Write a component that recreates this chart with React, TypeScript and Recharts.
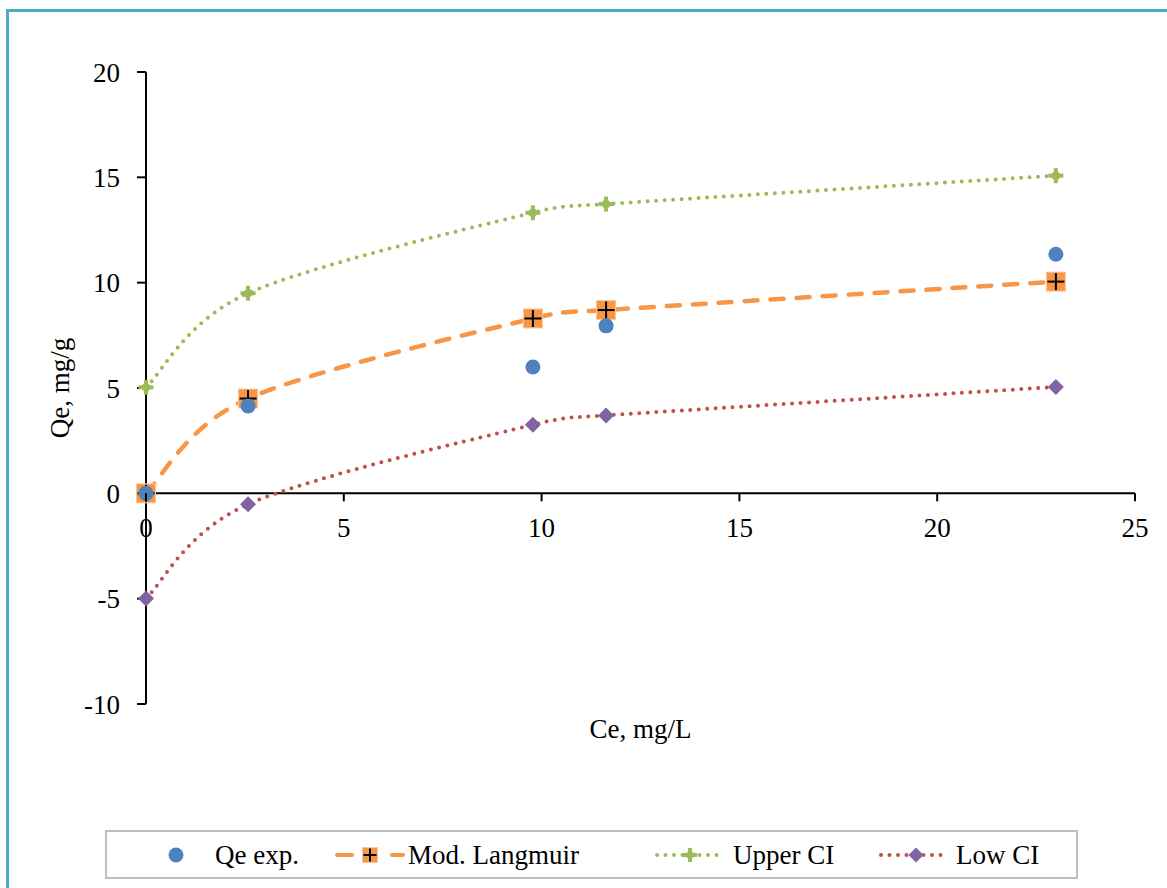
import React from "react";
import { LineChart, Line, XAxis, YAxis, ReferenceLine, Legend } from "recharts";

// Ce, mg/L
const CE = [0, 2.58, 9.78, 11.63, 23.0];
// Qe, mg/g
const QE_EXP = [0, 4.15, 6.0, 7.95, 11.35];
const MOD_LANGMUIR = [0, 4.5, 8.3, 8.7, 10.05];
const UPPER_CI = [5.03, 9.5, 13.32, 13.73, 15.08];
const LOW_CI = [-4.99, -0.52, 3.25, 3.7, 5.05];

const X_TICKS = [0, 5, 10, 15, 20, 25];
const Y_TICKS = [-10, -5, 0, 5, 10, 15, 20];
const Y_MIN = -10;
const Y_MAX = 20;

const W = 1167;
const H = 888;
const TOP = 72;
const PLOT_BOTTOM = 704;
const PLOT_H = PLOT_BOTTOM - TOP;
const Y_AXIS_W = 146;
const X_AXIS_H = 60;
// the horizontal axis crosses at Qe = 0
const ZERO_Y = TOP + (PLOT_H * Y_MAX) / (Y_MAX - Y_MIN);

const FONT = "'Liberation Serif', 'Times New Roman', serif";
const FS = 27;

const BLUE = "#4F81BD";
const ORANGE = "#F79646";
const GREEN = "#9BBB59";
const RED = "#C0504D";
const PURPLE = "#8064A2";

const data = CE.map((ce, i) => ({
  ce,
  qe: QE_EXP[i],
  lang: MOD_LANGMUIR[i],
  upper: UPPER_CI[i],
  low: LOW_CI[i],
}));

// Bezier smoothing: tangent along the neighbours' chord, length 1/6 of it,
// capped at half of the shorter adjacent segment so short gaps don't overshoot
const curveSmooth = (context: any) => {
  let pts: number[][] = [];
  const dist = (a: number[], b: number[]) => Math.hypot(b[0] - a[0], b[1] - a[1]);
  return {
    areaStart() {},
    areaEnd() {},
    lineStart() {
      pts = [];
    },
    point(x: number, y: number) {
      pts.push([+x, +y]);
    },
    lineEnd() {
      const n = pts.length;
      if (!n) return;
      const tan = pts.map((p, i) => {
        const prev = pts[i - 1] || p;
        const next = pts[i + 1] || p;
        const vx = next[0] - prev[0];
        const vy = next[1] - prev[1];
        const len = Math.hypot(vx, vy);
        if (!len) return [0, 0];
        let off = len / 6;
        if (i > 0 && i < n - 1) off = Math.min(off, dist(prev, p) / 2, dist(p, next) / 2);
        return [(vx / len) * off, (vy / len) * off];
      });
      context.moveTo(pts[0][0], pts[0][1]);
      for (let i = 0; i < n - 1; i++) {
        const a = pts[i];
        const b = pts[i + 1];
        context.bezierCurveTo(a[0] + tan[i][0], a[1] + tan[i][1], b[0] - tan[i + 1][0], b[1] - tan[i + 1][1], b[0], b[1]);
      }
    },
  };
};

const Circle = ({ cx, cy, r = 7.5 }: any) => <circle cx={cx} cy={cy} r={r} fill={BLUE} />;

const SquarePlus = ({ cx, cy, s = 19 }: any) => (
  <g>
    <rect x={cx - s / 2} y={cy - s / 2} width={s} height={s} fill={ORANGE} stroke="#fbc79a" strokeWidth={1} />
    <line x1={cx - s / 2 + 1} x2={cx + s / 2 - 1} y1={cy} y2={cy} stroke="#000" strokeWidth={2} />
    <line x1={cx} x2={cx} y1={cy - s / 2 + 1} y2={cy + s / 2 - 1} stroke="#000" strokeWidth={2} />
  </g>
);

const GreenStar = ({ cx, cy, s = 7.5 }: any) => (
  <g fill={GREEN}>
    <rect x={cx - s} y={cy - 2} width={s * 2} height={4} />
    <rect x={cx - 2} y={cy - s} width={4} height={s * 2} />
    <polygon points={`${cx},${cy - s + 1.5} ${cx + s - 1.5},${cy} ${cx},${cy + s - 1.5} ${cx - s + 1.5},${cy}`} />
  </g>
);

const Diamond = ({ cx, cy, s = 8 }: any) => (
  <polygon points={`${cx},${cy - s} ${cx + s},${cy} ${cx},${cy + s} ${cx - s},${cy}`} fill={PURPLE} />
);

const dotOf = (Shape: any) => (p: any) => <Shape key={`d-${p.index}`} cx={p.cx} cy={p.cy} />;

const XTick = ({ x, payload }: any) => (
  <g>
    <line x1={x} x2={x} y1={ZERO_Y} y2={ZERO_Y + 8} stroke="#000" strokeWidth={2} />
    <text x={x} y={ZERO_Y + 44} textAnchor="middle" fill="#000" fontSize={FS} style={{ fontFamily: FONT }}>
      {payload.value}
    </text>
  </g>
);

const legendText = (x: number, label: string) => (
  <text x={x} y={34} fontSize={FS} style={{ fontFamily: FONT }} fill="#000">
    {label}
  </text>
);

const renderLegend = () => (
  <div style={{ width: "100%", height: "100%", border: "2px solid #BFBFBF", boxSizing: "border-box", background: "#fff" }}>
    <svg width={969} height={45} style={{ display: "block", marginTop: -2, marginLeft: -2 }}>
      <Circle cx={71} cy={25} />
      {legendText(110, "Qe exp.")}

      <line x1={232} x2={247} y1={25} y2={25} stroke={ORANGE} strokeWidth={4} strokeLinecap="round" />
      <line x1={287} x2={298} y1={25} y2={25} stroke={ORANGE} strokeWidth={4} strokeLinecap="round" />
      <SquarePlus cx={265} cy={25} s={15} />
      {legendText(303, "Mod. Langmuir")}

      <line x1={552} x2={613} y1={25} y2={25} stroke={GREEN} strokeWidth={4} strokeDasharray="0 8.5" strokeLinecap="round" />
      <GreenStar cx={585} cy={25} s={7} />
      {legendText(628, "Upper CI")}

      <line x1={776} x2={838} y1={25} y2={25} stroke={RED} strokeWidth={4} strokeDasharray="0 8.5" strokeLinecap="round" />
      <Diamond cx={811} cy={25} s={7.5} />
      {legendText(851, "Low CI")}
    </svg>
  </div>
);

export default function App() {
  return (
    <div style={{ position: "absolute", left: 0, top: 0, width: W, height: H, overflow: "hidden", background: "#fff", fontFamily: FONT }}>
      <div
        style={{
          position: "absolute",
          left: 6,
          top: 9,
          width: W + 40,
          height: H + 40,
          borderTop: "3px solid #4BACC6",
          borderLeft: "3px solid #4BACC6",
        }}
      />
      <LineChart
        width={W}
        height={H}
        data={data}
        margin={{ top: TOP, right: W - 1135, bottom: H - PLOT_BOTTOM - X_AXIS_H, left: 0 }}
        style={{ fontFamily: FONT }}
      >
        <XAxis
          dataKey="ce"
          type="number"
          domain={[0, 25]}
          ticks={X_TICKS}
          height={X_AXIS_H}
          axisLine={false}
          tickLine={false}
          tick={<XTick />}
          interval={0}
          label={{
            content: ({ viewBox }: any) => (
              <text x={viewBox.x + viewBox.width / 2} y={738} textAnchor="middle" fontSize={FS} style={{ fontFamily: FONT }} fill="#000">
                Ce, mg/L
              </text>
            ),
          }}
        />
        <YAxis
          type="number"
          domain={[Y_MIN, Y_MAX]}
          ticks={Y_TICKS}
          width={Y_AXIS_W}
          interval={0}
          axisLine={{ stroke: "#000", strokeWidth: 2 }}
          tickLine={{ stroke: "#000", strokeWidth: 2 }}
          tickSize={9}
          tickMargin={17}
          tick={{ fill: "#000", fontSize: FS, style: { fontFamily: FONT } }}
          label={{
            content: ({ viewBox }: any) => {
              const cx = viewBox.x + 60;
              const cy = viewBox.y + viewBox.height / 2;
              return (
                <text x={cx} y={cy} transform={`rotate(-90 ${cx} ${cy})`} textAnchor="middle" dominantBaseline="central" fontSize={FS} style={{ fontFamily: FONT }} fill="#000">
                  Qe, mg/g
                </text>
              );
            },
          }}
        />
        <ReferenceLine y={0} stroke="#000" strokeWidth={2} />
        <Legend
          verticalAlign="middle"
          align="center"
          layout="horizontal"
          content={renderLegend}
          wrapperStyle={{ left: 105, top: 830, width: 973, height: 49 }}
        />
        <Line
          dataKey="upper"
          type={curveSmooth as any}
          stroke={GREEN}
          strokeWidth={4}
          strokeDasharray="0 8.5"
          strokeLinecap="round"
          dot={dotOf(GreenStar)}
          activeDot={false}
          isAnimationActive={false}
        />
        <Line
          dataKey="low"
          type={curveSmooth as any}
          stroke={RED}
          strokeWidth={4}
          strokeDasharray="0 8.5"
          strokeLinecap="round"
          dot={dotOf(Diamond)}
          activeDot={false}
          isAnimationActive={false}
        />
        <Line
          dataKey="lang"
          type={curveSmooth as any}
          stroke={ORANGE}
          strokeWidth={4.5}
          strokeDasharray="13 13"
          strokeLinecap="round"
          dot={dotOf(SquarePlus)}
          activeDot={false}
          isAnimationActive={false}
        />
        <Line
          dataKey="qe"
          stroke="none"
          dot={dotOf(Circle)}
          activeDot={false}
          isAnimationActive={false}
        />
      </LineChart>
    </div>
  );
}
